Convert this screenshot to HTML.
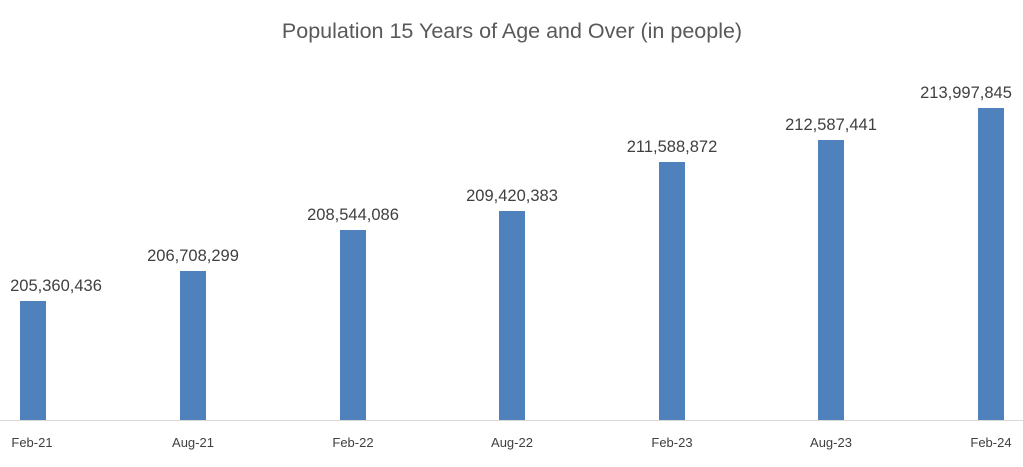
<!DOCTYPE html>
<html><head><style>
body{margin:0;background:#fff;}
svg text{font-family:"Liberation Sans",sans-serif;}
</style></head><body>
<svg width="1023" height="462" xmlns="http://www.w3.org/2000/svg">
<text x="512" y="38" text-anchor="middle" font-size="21.5" fill="#595959">Population 15 Years of Age and Over (in people)</text>
<line x1="0" y1="420.5" x2="1023" y2="420.5" stroke="#d9d9d9" stroke-width="1"/>
<g fill="#4f81bd">
<rect x="20" y="301" width="26" height="119"/>
<rect x="180" y="271" width="26" height="149"/>
<rect x="340" y="230" width="26" height="190"/>
<rect x="499" y="211" width="26" height="209"/>
<rect x="659" y="162" width="26" height="258"/>
<rect x="818" y="140" width="26" height="280"/>
<rect x="978" y="108" width="26" height="312"/>
</g>
<g font-size="16.5" fill="#404040" text-anchor="middle">
<text x="56" y="291">205,360,436</text>
<text x="193" y="261">206,708,299</text>
<text x="353" y="220">208,544,086</text>
<text x="512" y="201">209,420,383</text>
<text x="672" y="152">211,588,872</text>
<text x="831" y="130">212,587,441</text>
<text x="966" y="98">213,997,845</text>
</g>
<g font-size="13" fill="#404040" text-anchor="middle">
<text x="32" y="447">Feb-21</text>
<text x="193" y="447">Aug-21</text>
<text x="353" y="447">Feb-22</text>
<text x="512" y="447">Aug-22</text>
<text x="672" y="447">Feb-23</text>
<text x="831" y="447">Aug-23</text>
<text x="991" y="447">Feb-24</text>
</g>
</svg>
</body></html>
